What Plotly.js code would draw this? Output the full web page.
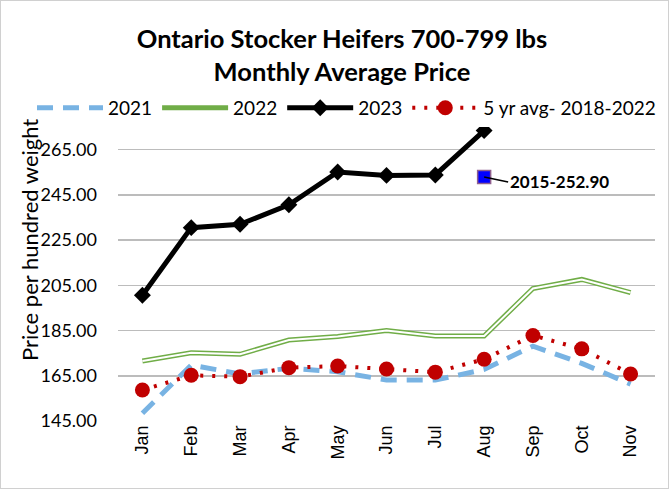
<!DOCTYPE html>
<html>
<head>
<meta charset="utf-8">
<script src="https://cdn.plot.ly/plotly-3.0.1.min.js"></script>
<style>
  html, body { margin: 0; padding: 0; background: #fff; }
  #wrap { position: relative; width: 669px; height: 489px; }
  #chart { position: absolute; left: 0; top: 0; width: 669px; height: 489px; }
  #frame { position: absolute; left: 0; top: 0; width: 669px; height: 489px; box-sizing: border-box; border: 1px solid #d0d0d0; pointer-events: none; }
</style>
</head>
<body>
<div id="wrap">
  <div id="chart"></div>
  <div id="frame"></div>
</div>
<script>
const months = ["Jan","Feb","Mar","Apr","May","Jun","Jul","Aug","Sep","Oct","Nov"];
const y2021 = [148.4, 169.7, 165.8, 168.3, 166.8, 163.1, 163.1, 167.8, 178.1, 170.5, 161.3];
const y2022 = [171.5, 175.2, 174.5, 180.8, 182.4, 185.0, 182.6, 182.6, 203.6, 207.6, 201.8];
const y2023 = [200.6, 230.5, 232.0, 240.6, 255.1, 253.6, 253.8, 273.4];
const avg5yr = [158.7, 165.2, 164.6, 168.6, 169.3, 168.0, 166.6, 172.3, 182.8, 176.9, 165.8];
const point2015 = {month: "Aug", value: 252.90, label: "2015-252.90"};
const yTicks = [145, 165, 185, 205, 225, 245, 265];
const yTickText = ["145.00","165.00","185.00","205.00","225.00","245.00","265.00"];

const FONT = "Lato, 'Open Sans', sans-serif";

const traces = [
  {
    x: months, y: y2021, name: "2021", type: "scatter", mode: "lines",
    line: {color: "#78b3e3", width: 5, dash: "16px,10px"}
  },
  {
    x: months, y: y2022, name: "2022", type: "scatter", mode: "lines",
    line: {color: "#70ad47", width: 5}
  },
  {
    x: months, y: y2022, name: "2022w", type: "scatter", mode: "lines",
    line: {color: "#ffffff", width: 2}, showlegend: false, hoverinfo: "skip"
  },
  {
    x: months.slice(0, y2023.length), y: y2023, name: "2023", type: "scatter", mode: "lines+markers",
    line: {color: "#000000", width: 5},
    marker: {symbol: "diamond", size: 13, color: "#000000"}
  },
  {
    x: months, y: avg5yr, name: "5 yr avg- 2018-2022", type: "scatter", mode: "lines+markers",
    line: {color: "#c00000", width: 4, dash: "3px,9px"},
    marker: {symbol: "circle", size: 15, color: "#c00000"}
  },
  {
    x: [point2015.month], y: [point2015.value], name: "2015", type: "scatter", mode: "markers",
    marker: {symbol: "square", size: 13, color: "#0000ff", line: {color: "#8f5f8f", width: 1.5}},
    showlegend: false
  }
];

const layout = {
  width: 669, height: 489,
  margin: {l: 118, r: 14, t: 127, b: 68},
  paper_bgcolor: "#ffffff", plot_bgcolor: "#ffffff",
  font: {family: FONT, color: "#000000", size: 16},
  title: {
    text: "<b>Ontario Stocker Heifers 700-799 lbs<br>Monthly Average Price</b>",
    font: {family: FONT, size: 25.5, color: "#000000"},
    x: 342/669, xanchor: "center", xref: "container",
    y: 1 - 48/489, yanchor: "middle", yref: "container"
  },
  showlegend: true,
  legend: {
    orientation: "h", x: (32 - 118)/537, xanchor: "left", y: 1.065, yanchor: "middle",
    font: {family: FONT, size: 19, color: "#000000"},
    bgcolor: "rgba(0,0,0,0)", itemwidth: 66, traceorder: "normal"
  },
  xaxis: {
    type: "category", categoryorder: "array", categoryarray: months,
    range: [-0.5, 10.5],
    showgrid: false, zeroline: false, showline: false,
    ticks: "", tickangle: -90,
    tickfont: {family: "'Liberation Sans', Arial, sans-serif", size: 18, color: "#000000"}
  },
  yaxis: {
    range: [145, 275], tickvals: yTicks, ticktext: yTickText,
    showgrid: true, gridcolor: "#bcbcbc", gridwidth: 1.5,
    zeroline: false, showline: false, ticks: "",
    tickfont: {family: FONT, size: 18, color: "#000000"},
    ticklabelstandoff: 20
  },
  annotations: [
    {
      text: "Price per hundred weight", textangle: -90,
      xref: "paper", yref: "paper", x: 0, y: (421 - 240)/294, xanchor: "center", yanchor: "middle",
      xshift: 29 - 118, showarrow: false,
      font: {family: FONT, size: 22, color: "#000000"}
    },
    {
      text: "<b>" + point2015.label + "</b>",
      x: point2015.month, y: point2015.value, xref: "x", yref: "y",
      showarrow: true, arrowhead: 0, arrowwidth: 1.5, arrowcolor: "#000000",
      ax: 24, ay: 5, xanchor: "left", yanchor: "middle",
      standoff: 0,
      font: {family: FONT, size: 17, color: "#000000"}
    }
  ]
};

Plotly.newPlot("chart", traces, layout, {displayModeBar: false, staticPlot: true});
</script>
</body>
</html>
